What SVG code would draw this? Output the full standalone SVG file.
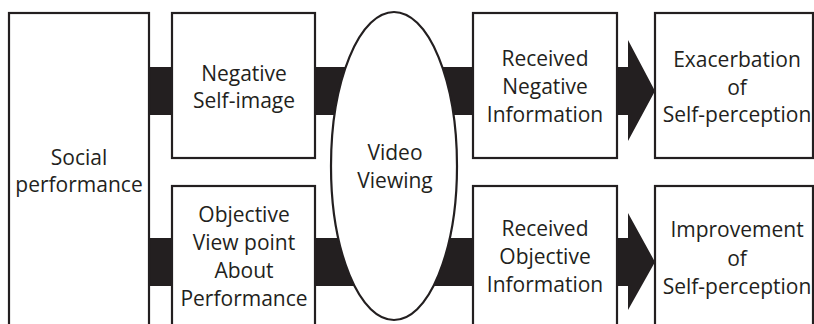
<svg xmlns="http://www.w3.org/2000/svg" width="814" height="324" viewBox="0 0 814 324">
<style>
.box{fill:#ffffff;stroke:#231f20;stroke-width:2.2}
.bar{fill:#231f20;stroke:none}
text{font-family:"Open Sans","Liberation Sans",sans-serif;font-size:21px;fill:#231f20;text-anchor:middle}
</style>
<rect width="814" height="324" fill="#ffffff"/>
<g id="connectors">
<rect class="bar" x="148" y="67" width="26" height="48"/>
<rect class="bar" x="148" y="238" width="26" height="48"/>
<rect class="bar" x="314" y="67" width="60" height="48"/>
<rect class="bar" x="314" y="238" width="60" height="48"/>
<rect class="bar" x="420" y="67" width="55" height="48"/>
<rect class="bar" x="420" y="238" width="55" height="48"/>
<path class="bar" d="M616,67 H628 V40 L655,91 L628,141 V115 H616 Z"/>
<path class="bar" d="M616,238 H628 V213 L655,262 L628,310 V286 H616 Z"/>
</g>
<g id="social">
<rect class="box" x="9" y="13" width="140" height="330"/>
<text x="79" y="165">Social</text>
<text x="79" y="192">performance</text>
</g>
<g id="negative-self-image">
<rect class="box" x="172" y="13" width="143" height="145"/>
<text x="244" y="81">Negative</text>
<text x="244" y="108">Self-image</text>
</g>
<g id="objective-view">
<rect class="box" x="172" y="186" width="143" height="160"/>
<text x="244" y="222">Objective</text>
<text x="244" y="250">View point</text>
<text x="244" y="278">About</text>
<text x="244" y="306">Performance</text>
</g>
<g id="video-viewing">
<ellipse class="box" cx="394" cy="166" rx="63" ry="154"/>
<text x="395" y="160">Video</text>
<text x="395" y="188">Viewing</text>
</g>
<g id="received-negative">
<rect class="box" x="473" y="13" width="144" height="145"/>
<text x="545" y="66">Received</text>
<text x="545" y="94">Negative</text>
<text x="545" y="122">Information</text>
</g>
<g id="received-objective">
<rect class="box" x="473" y="186" width="144" height="160"/>
<text x="545" y="236">Received</text>
<text x="545" y="264">Objective</text>
<text x="545" y="292">Information</text>
</g>
<g id="exacerbation">
<rect class="box" x="655" y="13" width="158" height="145"/>
<text x="737" y="67">Exacerbation</text>
<text x="737" y="95">of</text>
<text x="737" y="122">Self-perception</text>
</g>
<g id="improvement">
<rect class="box" x="655" y="186" width="158" height="160"/>
<text x="737" y="237">Improvement</text>
<text x="737" y="266">of</text>
<text x="737" y="294">Self-perception</text>
</g>
</svg>
